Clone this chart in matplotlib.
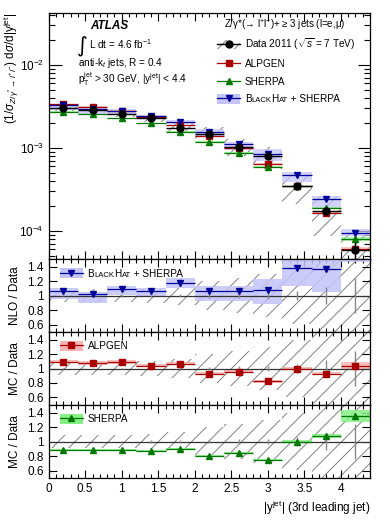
import numpy as np
import matplotlib
matplotlib.use('Agg')
import matplotlib.pyplot as plt
from matplotlib.patches import Patch
from matplotlib.lines import Line2D
from matplotlib.ticker import MultipleLocator, FuncFormatter, LogLocator, NullFormatter

plt.rcParams['font.family'] = ['Liberation Sans', 'DejaVu Sans']
plt.rcParams['mathtext.fontset'] = 'custom'
plt.rcParams['mathtext.rm'] = 'Liberation Sans'
plt.rcParams['mathtext.it'] = 'Liberation Sans:italic'
plt.rcParams['mathtext.bf'] = 'Liberation Sans:bold'
plt.rcParams['hatch.linewidth'] = 0.7

# binning in |y^jet| of the 3rd leading jet
bin_lo = [0.0, 0.4, 0.8, 1.2, 1.6, 2.0, 2.4, 2.8, 3.2, 3.6, 4.0]
bin_hi = [0.4, 0.8, 1.2, 1.6, 2.0, 2.4, 2.8, 3.2, 3.6, 4.0, 4.4]

# measured normalised cross section
data = [3.06e-3, 2.89e-3, 2.57e-3, 2.28e-3, 1.76e-3, 1.48e-3,
        1.04e-3, 7.9e-4, 3.45e-4, 1.76e-4, 5.9e-5]
data_stat = [0.01, 0.01, 0.012, 0.015, 0.02, 0.025, 0.03, 0.04, 0.06, 0.12, 0.24]
data_syst = [0.09, 0.09, 0.09, 0.10, 0.13, 0.20, 0.24, 0.30, 0.39, 0.50, 0.65]

# predictions / data
alpgen_ratio = [1.095, 1.077, 1.09, 1.036, 1.064, 0.93, 0.955, 0.82, 1.0, 0.93, 1.036]
alpgen_band = [0.02, 0.02, 0.02, 0.02, 0.02, 0.02, 0.02, 0.02, 0.02, 0.025, 0.05]
sherpa_ratio = [0.887, 0.88, 0.887, 0.865, 0.896, 0.797, 0.842, 0.752, 1.0, 1.08, 1.35]
sherpa_band = [0.015, 0.015, 0.015, 0.015, 0.015, 0.015, 0.015, 0.015, 0.02, 0.025, 0.06]
bh_ratio = [1.062, 1.018, 1.09, 1.062, 1.173, 1.067, 1.067, 1.084, 1.382, 1.373, 1.62]
bh_lo = [0.95, 0.893, 1.01, 0.98, 1.11, 0.92, 0.92, 0.885, 1.14, 1.05, 1.47]
bh_hi = [1.11, 1.053, 1.133, 1.11, 1.244, 1.13, 1.13, 1.23, 1.50, 1.52, 1.80]

RED, RED_BAND = '#a80000', '#f7b4b4'
GREEN, GREEN_BAND = '#007800', '#86f086'
BLUE, BLUE_BAND = '#00009a', '#c4c4fa'
HATCH = '#808080'

lo = np.array(bin_lo)
hi = np.array(bin_hi)
ctr = 0.5 * (lo + hi)
wid = hi - lo
d = np.array(data)
stat = np.array(data_stat)
syst = np.array(data_syst)


def style_axis(ax):
    ax.tick_params(which='both', direction='in', top=True, right=True, labelsize=8.5)
    ax.tick_params(which='major', length=6, width=0.8)
    ax.tick_params(which='minor', length=3, width=0.8)
    ax.set_xlim(0, 4.4)
    ax.xaxis.set_major_locator(MultipleLocator(0.5))
    ax.xaxis.set_minor_locator(MultipleLocator(0.1))
    ax.xaxis.set_major_formatter(FuncFormatter(lambda v, p: '%g' % v))
    for s in ax.spines.values():
        s.set_linewidth(0.9)


def small_caps(ax, anchor, pieces, zorder=10):
    # chain text pieces to the right of an existing text artist
    prev = anchor
    for txt, size in pieces:
        prev = ax.annotate(txt, xy=(1, 0), xycoords=prev, ha='left', va='bottom',
                           fontsize=size, zorder=zorder, annotation_clip=False)


fig = plt.figure(figsize=(3.9, 5.2), dpi=100)
left, width = 0.125, 0.8235
ax0 = fig.add_axes([left, 0.502, width, 0.473])
ax1 = fig.add_axes([left, 0.362, width, 0.140])
ax2 = fig.add_axes([left, 0.222, width, 0.140])
ax3 = fig.add_axes([left, 0.081, width, 0.141])

# ---------------- main panel ----------------
ax0.set_yscale('log')
ax0.bar(ctr, d * 2 * syst, bottom=d * (1 - syst), width=wid, fill=False,
        hatch='//', edgecolor=HATCH, lw=0, zorder=1)
bh = np.array(bh_ratio) * d
ax0.bar(ctr, (np.array(bh_hi) - np.array(bh_lo)) * d, bottom=np.array(bh_lo) * d,
        width=wid, color=BLUE_BAND, alpha=0.75, lw=0, zorder=2)
alp = np.array(alpgen_ratio) * d
she = np.array(sherpa_ratio) * d
ax0.bar(ctr, 2 * np.array(alpgen_band) * alp, bottom=alp * (1 - np.array(alpgen_band)),
        width=wid, color=RED_BAND, alpha=0.7, lw=0, zorder=2)
ax0.bar(ctr, 2 * np.array(sherpa_band) * she, bottom=she * (1 - np.array(sherpa_band)),
        width=wid, color=GREEN_BAND, alpha=0.7, lw=0, zorder=2)
for vals, col, mk in [(alp, RED, 's'), (she, GREEN, '^'), (bh, BLUE, 'v')]:
    ax0.hlines(vals, lo, hi, color=col, lw=0.9, zorder=3)
    ax0.plot(ctr, vals, ls='none', marker=mk, color=col, ms=5, zorder=4)
ax0.errorbar(ctr, d, xerr=wid / 2, yerr=stat * d, fmt='o', color='k', ms=5,
             elinewidth=1.0, capsize=0, zorder=5)

ax0.set_ylim(4.6e-5, 4.23e-2)
style_axis(ax0)
ax0.tick_params(labelbottom=False)
ax0.yaxis.set_major_locator(LogLocator(base=10))
ax0.yaxis.set_minor_locator(LogLocator(base=10, subs=np.arange(2, 10)))
ax0.yaxis.set_minor_formatter(NullFormatter())
ax0.tick_params(which='major', axis='y', length=9)
ax0.tick_params(which='minor', axis='y', length=4.5)
ax0.set_ylabel(r'$(1/\sigma_{Z/\gamma^{*}\rightarrow l^{+}l^{-}})$ d$\sigma$/d|y$^{\rm jet}$|',
               fontsize=8.5, loc='top')
ax0.yaxis.set_label_coords(-0.085, 1.0)

ax0.text(0.13, 0.948, 'ATLAS', transform=ax0.transAxes, fontsize=8.5,
         fontweight='bold', fontstyle='italic', va='center')
ax0.text(0.088, 0.868, '\u222b', transform=ax0.transAxes, fontsize=15,
         family='DejaVu Sans', va='center')
ax0.text(0.125, 0.872, r'L dt = 4.6 fb$^{-1}$', transform=ax0.transAxes, fontsize=7.2, va='center')
ax0.text(0.092, 0.797, r'anti-k$_{t}$ jets, R = 0.4', transform=ax0.transAxes,
         fontsize=7.2, va='center')
ax0.text(0.092, 0.730, r'p$_{\rm T}^{\rm jet}$ > 30 GeV, |y$^{\rm jet}$| < 4.4',
         transform=ax0.transAxes, fontsize=7.2, va='center')
ax0.text(0.545, 0.950, 'Z/\u03b3*(\u2192 l$^{+}$l$^{-}$)+ \u2265 3 jets (l=e,\u03bc)',
         transform=ax0.transAxes, fontsize=7.0, va='center')

h_data = (Patch(facecolor='none', edgecolor=HATCH, hatch='//', lw=0),
          Line2D([], [], color='k', marker='o', ms=5, lw=1.0))
h_alp = Line2D([], [], color=RED, marker='s', ms=5, lw=0.9)
h_she = Line2D([], [], color=GREEN, marker='^', ms=5, lw=0.9)
h_bh = (Patch(facecolor=BLUE_BAND, lw=0), Line2D([], [], color=BLUE, marker='v', ms=5, lw=0.9))
leg = ax0.legend([h_data, h_alp, h_she, h_bh],
                 [r'Data 2011 ($\sqrt{s}$ = 7 TeV)', 'ALPGEN', 'SHERPA', 'B'],
                 loc='upper left', bbox_to_anchor=(0.525, 0.905), frameon=False,
                 fontsize=7.2, handlelength=2.3, handleheight=1.1, labelspacing=0.72,
                 handletextpad=0.45, borderaxespad=0, borderpad=0)
small_caps(ax0, leg.get_texts()[3], [('LACK', 5.6), ('H', 7.2), ('AT', 5.6), (' + SHERPA', 7.2)])

# ---------------- ratio panels ----------------
def ratio_base(ax, ylab):
    ax.bar(ctr, 2 * syst, bottom=1 - syst, width=wid, fill=False, hatch='//',
           edgecolor=HATCH, lw=0, zorder=1)
    ax.axhline(1.0, color='#333333', lw=0.9, zorder=3)
    ax.errorbar(ctr, np.ones_like(ctr), yerr=stat, fmt='none', ecolor='#888888',
                elinewidth=1.0, zorder=3)
    ax.set_ylim(0.5, 1.51)
    style_axis(ax)
    ax.set_yticks([0.6, 0.8, 1.0, 1.2, 1.4])
    ax.yaxis.set_major_formatter(FuncFormatter(lambda v, p: '%g' % round(v, 1)))
    ax.set_ylabel(ylab, fontsize=8.5)
    ax.yaxis.set_label_coords(-0.085, 0.5)


def ratio_mc(ax, r, blo, bhi, col, band_col, mk):
    r = np.array(r)
    ax.bar(ctr, np.array(bhi) - np.array(blo), bottom=blo, width=wid, color=band_col,
           alpha=0.85, lw=0, zorder=2)
    ax.hlines(r, lo, hi, color=col, lw=0.9, zorder=4)
    ax.plot(ctr, r, ls='none', marker=mk, color=col, ms=5, zorder=5, clip_on=True)


ratio_base(ax1, 'NLO / Data')
ratio_mc(ax1, bh_ratio, bh_lo, bh_hi, BLUE, BLUE_BAND, 'v')
ax1.tick_params(labelbottom=False)

ratio_base(ax2, 'MC / Data')
ra = np.array(alpgen_ratio)
ratio_mc(ax2, ra, ra * (1 - np.array(alpgen_band)), ra * (1 + np.array(alpgen_band)),
         RED, RED_BAND, 's')
ax2.tick_params(labelbottom=False)

ratio_base(ax3, 'MC / Data')
rs = np.array(sherpa_ratio)
ratio_mc(ax3, rs, rs * (1 - np.array(sherpa_band)), rs * (1 + np.array(sherpa_band)),
         GREEN, GREEN_BAND, '^')
ax3.set_xlabel(r'|y$^{\rm jet}$| (3rd leading jet)', fontsize=8.5, loc='right', labelpad=3)

for ax, col, band_col, mk, lab in [(ax1, BLUE, BLUE_BAND, 'v', 'B'),
                                   (ax2, RED, RED_BAND, 's', 'ALPGEN'),
                                   (ax3, GREEN, GREEN_BAND, '^', 'SHERPA')]:
    h = (Patch(facecolor=band_col, lw=0), Line2D([], [], color=col, marker=mk, ms=5, lw=0.9))
    lg = ax.legend([h], [lab], loc='upper left', bbox_to_anchor=(0.035, 0.87),
                   frameon=False, fontsize=7.2, handlelength=2.3, handleheight=1.1,
                   handletextpad=0.45, borderaxespad=0, borderpad=0)
    if lab == 'B':
        small_caps(ax, lg.get_texts()[0], [('LACK', 5.6), ('H', 7.2), ('AT', 5.6), (' + SHERPA', 7.2)])

fig.savefig('out.png', dpi=100)
